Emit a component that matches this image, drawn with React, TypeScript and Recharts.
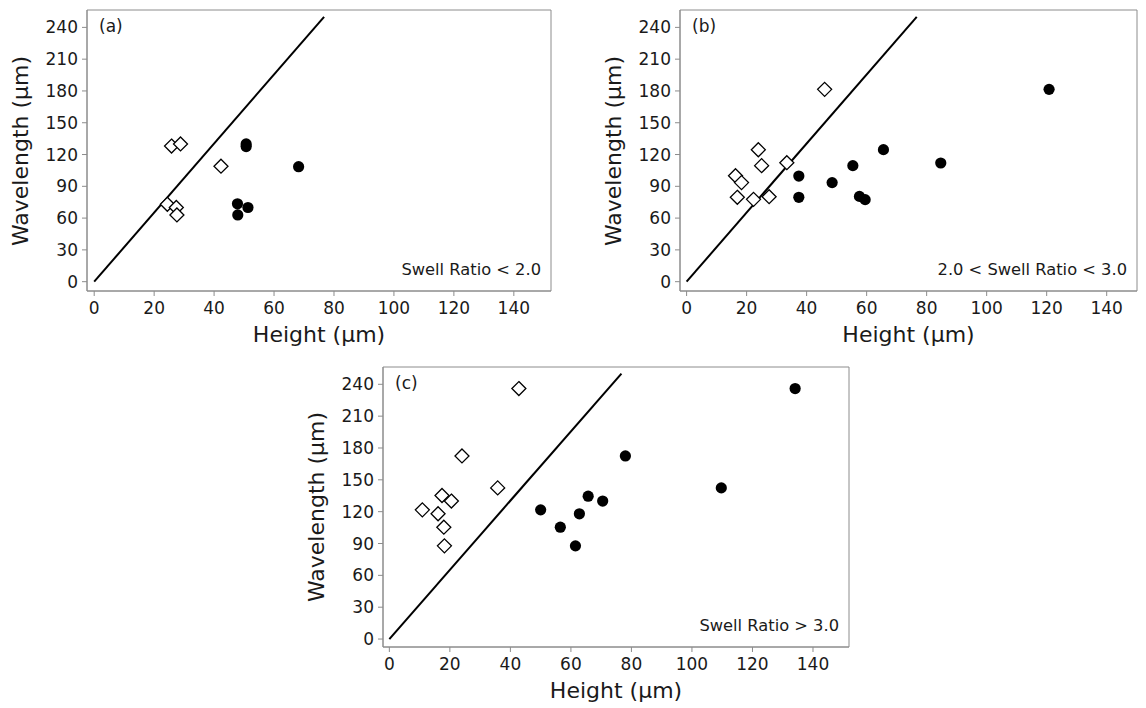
import React from 'react';
import { ScatterChart, Scatter, XAxis, YAxis, ReferenceLine, ReferenceArea } from 'recharts';

type Pt = { h: number; w: number };

// Panel (a): Swell Ratio < 2.0
const aOpen: Pt[] = [
  { h: 25.8, w: 128 }, { h: 28.8, w: 130 }, { h: 42.3, w: 109 },
  { h: 24.4, w: 73 }, { h: 27.4, w: 70 }, { h: 27.6, w: 63 },
];
const aFilled: Pt[] = [
  { h: 50.7, w: 130 }, { h: 50.7, w: 127.5 }, { h: 68.2, w: 108.5 },
  { h: 47.8, w: 73.5 }, { h: 47.9, w: 63 }, { h: 51.3, w: 70 },
];

// Panel (b): 2.0 < Swell Ratio < 3.0
const bOpen: Pt[] = [
  { h: 46.0, w: 181.5 }, { h: 23.9, w: 124.5 }, { h: 25.0, w: 109.5 },
  { h: 33.4, w: 112.3 }, { h: 16.3, w: 100 }, { h: 18.3, w: 93.5 },
  { h: 16.9, w: 79.6 }, { h: 22.3, w: 77.7 }, { h: 27.5, w: 80.2 },
];
const bFilled: Pt[] = [
  { h: 120.8, w: 181.5 }, { h: 65.6, w: 124.6 }, { h: 84.7, w: 112 },
  { h: 55.4, w: 109.5 }, { h: 37.4, w: 99.7 }, { h: 48.5, w: 93.5 },
  { h: 37.4, w: 79.6 }, { h: 57.6, w: 80.5 }, { h: 59.5, w: 77.4 },
];

// Panel (c): Swell Ratio > 3.0
const cOpen: Pt[] = [
  { h: 42.8, w: 236 }, { h: 24.0, w: 172.5 }, { h: 35.8, w: 142.4 },
  { h: 17.4, w: 135.2 }, { h: 20.5, w: 130 }, { h: 10.9, w: 121.7 },
  { h: 16.1, w: 118 }, { h: 18.0, w: 105.4 }, { h: 18.2, w: 87.8 },
];
const cFilled: Pt[] = [
  { h: 134.1, w: 236 }, { h: 78.0, w: 172.5 }, { h: 109.7, w: 142.4 },
  { h: 65.7, w: 134.6 }, { h: 70.5, w: 130 }, { h: 50.0, w: 121.7 },
  { h: 62.8, w: 118 }, { h: 56.5, w: 105.4 }, { h: 61.5, w: 87.8 },
];

const lineSeg = [{ x: 0, y: 0 }, { x: 76.7, y: 250 }];
const xTicks = [0, 20, 40, 60, 80, 100, 120, 140];
const yTicks = [0, 30, 60, 90, 120, 150, 180, 210, 240];
const xDomainA: [number, number] = [-2.4, 152.4];
const xDomainB: [number, number] = [-2.2, 150.1];
const xDomainC: [number, number] = [-2.1, 151.9];
const yDomainAB: [number, number] = [-8.8, 256.4];
const yDomainC: [number, number] = [-7.5, 256.3];

const panelTags = ['(a)', '(b)', '(c)'];
const panelNotes = ['Swell Ratio < 2.0', '2.0 < Swell Ratio < 3.0', 'Swell Ratio > 3.0'];
const xTitle = 'Height (\u03bcm)';
const yTitle = 'Wavelength (\u03bcm)';

const FONT = '"DejaVu Sans", sans-serif';
const GREY = '#8c8c8c';
const INK = '#1a1a1a';

const Diamond = (p: any) => {
  const { cx, cy } = p;
  if (cx == null || cy == null) return <g />;
  const s = 7;
  return (
    <path
      d={`M${cx},${cy - s} L${cx + s},${cy} L${cx},${cy + s} L${cx - s},${cy} Z`}
      fill="#fff"
      stroke="#000"
      strokeWidth={1.3}
    />
  );
};
const Dot = (p: any) => {
  const { cx, cy } = p;
  if (cx == null || cy == null) return <g />;
  return <circle cx={cx} cy={cy} r={5.6} fill="#000" />;
};

type PanelProps = {
  left: number; top: number; width: number; height: number;
  margin: { top: number; right: number; bottom: number; left: number };
  xDomain: [number, number]; yDomain: [number, number];
  open: Pt[]; filled: Pt[]; tag: string; note: string;
};

const Panel = ({ left, top, width, height, margin, xDomain, yDomain, open, filled, tag, note }: PanelProps) => {
  const plotLeft = margin.left + 60;
  const plotRight = width - margin.right;
  const plotTop = margin.top;
  const plotBottom = height - margin.bottom - 30;
  return (
    <div style={{ position: 'absolute', left, top, width, height }}>
      <ScatterChart width={width} height={height} margin={margin}>
        <XAxis
          type="number" dataKey="h" domain={xDomain} ticks={xTicks} allowDataOverflow
          tick={{ fontSize: 17, fill: INK, fontFamily: FONT }}
          tickLine={{ stroke: GREY }} axisLine={{ stroke: GREY }} tickSize={5} tickMargin={6}
          height={30}
        />
        <YAxis
          type="number" dataKey="w" domain={yDomain} ticks={yTicks} allowDataOverflow
          tick={{ fontSize: 17, fill: INK, fontFamily: FONT }}
          tickLine={{ stroke: GREY }} axisLine={{ stroke: GREY }} tickSize={5} tickMargin={4}
          width={60}
        />
        <ReferenceArea x1={xDomain[0]} x2={xDomain[1]} y1={yDomain[0]} y2={yDomain[1]}
          fill="none" stroke={GREY} strokeWidth={1} />
        <ReferenceLine segment={lineSeg} stroke="#000" strokeWidth={2} />
        <Scatter data={open} shape={Diamond} isAnimationActive={false} />
        <Scatter data={filled} shape={Dot} isAnimationActive={false} />
      </ScatterChart>
      <div style={{ position: 'absolute', left: plotLeft + 12, top: plotTop + 6, fontFamily: FONT, fontSize: 17, color: INK, lineHeight: '20px' }}>{tag}</div>
      <div style={{ position: 'absolute', right: width - plotRight + 10, top: plotBottom - 31, fontFamily: FONT, fontSize: 16.3, color: INK, lineHeight: '20px', whiteSpace: 'nowrap' }}>{note}</div>
      <div style={{ position: 'absolute', left: plotLeft, width: plotRight - plotLeft, top: plotBottom + 31, textAlign: 'center', fontFamily: FONT, fontSize: 22, color: INK, lineHeight: '26px', whiteSpace: 'nowrap' }}>{xTitle}</div>
      <div style={{ position: 'absolute', left: margin.left - 6 - 100, top: (plotTop + plotBottom) / 2 - 13, width: 200, textAlign: 'center', transform: 'rotate(-90deg)', fontFamily: FONT, fontSize: 22, color: INK, lineHeight: '26px', whiteSpace: 'nowrap' }}>{yTitle}</div>
    </div>
  );
};

export default function App() {
  return (
    <div style={{ position: 'absolute', left: 0, top: 0, width: 1146, height: 708, background: '#fff', overflow: 'hidden' }}>
      <Panel left={0} top={0} width={560} height={340} margin={{ top: 10, right: 9, bottom: 19, left: 27 }}
        xDomain={xDomainA} yDomain={yDomainAB}
        open={aOpen} filled={aFilled} tag={panelTags[0]} note={panelNotes[0]} />
      <Panel left={593} top={0} width={553} height={340} margin={{ top: 10, right: 9, bottom: 19, left: 27 }}
        xDomain={xDomainB} yDomain={yDomainAB}
        open={bOpen} filled={bFilled} tag={panelTags[1]} note={panelNotes[1]} />
      <Panel left={296} top={357} width={560} height={340} margin={{ top: 10, right: 7, bottom: 20, left: 27 }}
        xDomain={xDomainC} yDomain={yDomainC}
        open={cOpen} filled={cFilled} tag={panelTags[2]} note={panelNotes[2]} />
    </div>
  );
}
